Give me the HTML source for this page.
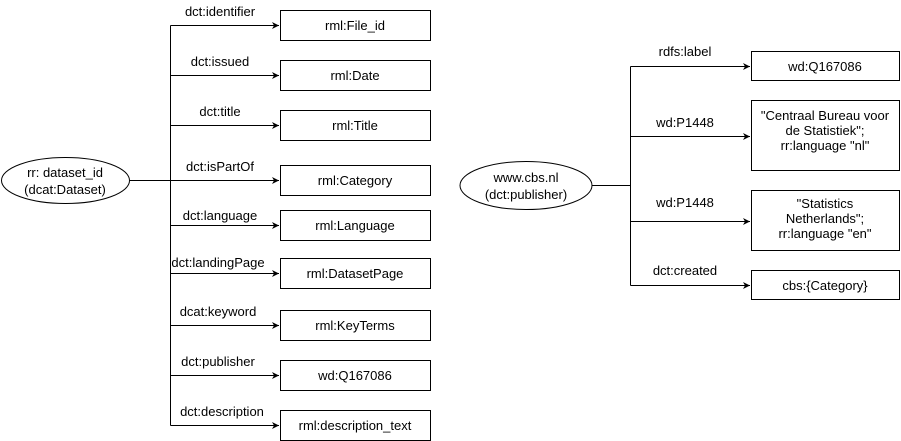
<!DOCTYPE html><html><head><style>body{margin:0;background:#fff}svg{display:block}text{font-family:"Liberation Sans",Arial,sans-serif;font-size:13px;fill:#000}</style></head><body>
<svg width="901" height="441" viewBox="0 0 901 441">
<defs><marker id="a" markerWidth="8" markerHeight="8" refX="7" refY="4" orient="auto" markerUnits="userSpaceOnUse"><path d="M0,0.5 L7,4 L0,7.5 L2,4z" fill="#000"/></marker></defs>
<g stroke="#000" fill="none" stroke-width="1">
<ellipse cx="65.5" cy="180.5" rx="64" ry="23" fill="#fff"/>
<line x1="130" y1="180.5" x2="170.5" y2="180.5"/>
<line x1="170.5" y1="25.5" x2="170.5" y2="425.5"/>
<g marker-end="url(#a)">
<line x1="170.5" y1="25.5" x2="279" y2="25.5"/>
<line x1="170.5" y1="75.5" x2="279" y2="75.5"/>
<line x1="170.5" y1="125.5" x2="279" y2="125.5"/>
<line x1="170.5" y1="180.5" x2="279" y2="180.5"/>
<line x1="170.5" y1="225.5" x2="279" y2="225.5"/>
<line x1="170.5" y1="273.5" x2="279" y2="273.5"/>
<line x1="170.5" y1="325.5" x2="279" y2="325.5"/>
<line x1="170.5" y1="375.5" x2="279" y2="375.5"/>
<line x1="170.5" y1="425.5" x2="279" y2="425.5"/>
</g>
<rect x="280.5" y="10.5" width="150" height="30"/>
<rect x="280.5" y="60.5" width="150" height="30"/>
<rect x="280.5" y="110.5" width="150" height="30"/>
<rect x="280.5" y="165.5" width="150" height="30"/>
<rect x="280.5" y="210.5" width="150" height="30"/>
<rect x="280.5" y="258.5" width="150" height="30"/>
<rect x="280.5" y="310.5" width="150" height="30"/>
<rect x="280.5" y="360.5" width="150" height="30"/>
<rect x="280.5" y="410.5" width="150" height="30"/>
<ellipse cx="526" cy="185.5" rx="66" ry="24" fill="#fff"/>
<line x1="592" y1="185.5" x2="630.5" y2="185.5"/>
<line x1="630.5" y1="66.5" x2="630.5" y2="285.5"/>
<g marker-end="url(#a)">
<line x1="630.5" y1="66.5" x2="750" y2="66.5"/>
<line x1="630.5" y1="136.5" x2="750" y2="136.5"/>
<line x1="630.5" y1="221.5" x2="750" y2="221.5"/>
<line x1="630.5" y1="285.5" x2="750" y2="285.5"/>
</g>
<rect x="751.5" y="51.5" width="148" height="29"/>
<rect x="751.5" y="100.5" width="148" height="70"/>
<rect x="751.5" y="190.5" width="148" height="60"/>
<rect x="751.5" y="270.5" width="148" height="29"/>
</g>
<g text-anchor="middle">
<text x="65" y="177">rr: dataset_id</text><text x="65" y="194">(dcat:Dataset)</text>
<text x="220" y="16">dct:identifier</text>
<text x="220" y="66">dct:issued</text>
<text x="220" y="116">dct:title</text>
<text x="220" y="171">dct:isPartOf</text>
<text x="220" y="220">dct:language</text>
<text x="218" y="267">dct:landingPage</text>
<text x="218" y="316">dcat:keyword</text>
<text x="218" y="366">dct:publisher</text>
<text x="222" y="416">dct:description</text>
<text x="355" y="30">rml:File_id</text>
<text x="355" y="80">rml:Date</text>
<text x="355" y="130">rml:Title</text>
<text x="355" y="185">rml:Category</text>
<text x="355" y="230">rml:Language</text>
<text x="355" y="278">rml:DatasetPage</text>
<text x="355" y="330">rml:KeyTerms</text>
<text x="355" y="380">wd:Q167086</text>
<text x="355" y="430">rml:description_text</text>
<text x="526" y="182">www.cbs.nl</text><text x="526" y="199">(dct:publisher)</text>
<text x="685" y="56">rdfs:label</text>
<text x="685" y="127">wd:P1448</text>
<text x="685" y="207">wd:P1448</text>
<text x="685" y="275">dct:created</text>
<text x="825" y="71">wd:Q167086</text>
<text x="825" y="120">"Centraal Bureau voor</text>
<text x="825" y="135">de Statistiek";</text>
<text x="825" y="150">rr:language "nl"</text>
<text x="825" y="208">"Statistics</text>
<text x="825" y="223">Netherlands";</text>
<text x="825" y="238">rr:language "en"</text>
<text x="825" y="290">cbs:{Category}</text>
</g>
</svg></body></html>
